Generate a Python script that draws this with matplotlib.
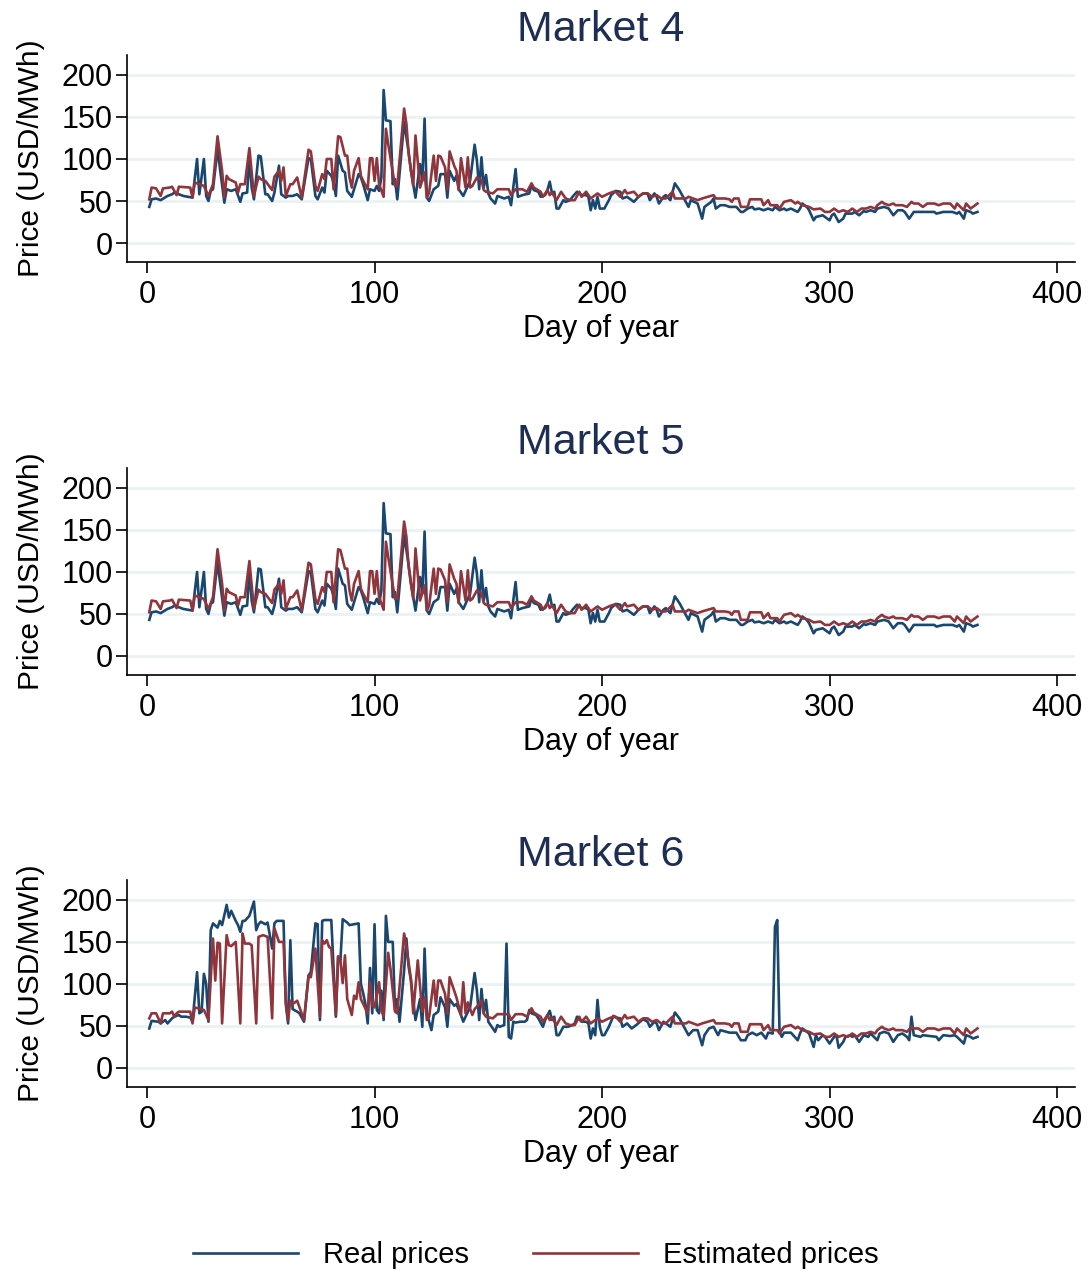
import matplotlib.pyplot as plt

plt.rcParams['font.family'] = ['Liberation Sans', 'DejaVu Sans']

# ---- data (day of year, USD/MWh) ----
# Market 4 and Market 5 show the same series
real4_day = [1, 2, 4, 6, 9, 11, 12, 14, 16, 18, 20, 22, 23, 25, 26, 27, 28, 29, 31, 32, 34, 35, 37, 39, 41, 42, 44, 45,
             46, 47, 49, 50, 52, 53, 55, 56, 58, 59, 61, 62, 64, 66, 68, 71, 72, 74, 75, 77, 78, 79, 81, 82, 83, 84, 86,
             87, 88, 90, 91, 93, 94, 95, 97, 98, 100, 101, 102, 103, 104, 105, 107, 108, 109, 110, 112, 113, 115, 116,
             118, 120, 121, 122, 123, 124, 126, 128, 129, 131, 132, 133, 135, 136, 137, 139, 140, 142, 144, 145, 146,
             147, 148, 149, 150, 151, 153, 154, 155, 157, 159, 160, 162, 163, 165, 168, 169, 170, 172, 173, 175, 176,
             177, 178, 179, 180, 181, 183, 184, 186, 187, 189, 191, 193, 194, 195, 196, 197, 198, 199, 201, 203, 204,
             206, 208, 209, 211, 213, 214, 216, 218, 220, 221, 223, 224, 225, 227, 228, 230, 232, 234, 236, 238, 239,
             242, 244, 245, 248, 249, 250, 252, 254, 256, 259, 261, 262, 264, 266, 267, 269, 271, 273, 275, 276, 278,
             280, 281, 283, 286, 287, 288, 290, 291, 293, 294, 297, 298, 300, 301, 302, 304, 306, 307, 310, 311, 313,
             315, 316, 318, 320, 321, 324, 326, 328, 330, 332, 333, 335, 337, 339, 341, 343, 346, 347, 350, 352, 354,
             356, 357, 359, 360, 362, 363, 365]
real4_val = [43, 52, 53, 51, 56, 58, 60, 58, 56, 55, 54, 100, 58, 100, 56, 50, 62, 64, 112, 90, 48, 64, 62, 64, 49, 59,
             60, 102, 66, 52, 104, 103, 58, 58, 50, 60, 92, 58, 54, 56, 56, 58, 52, 101, 100, 56, 52, 66, 60, 86, 80,
             72, 56, 104, 86, 84, 62, 55, 64, 82, 78, 70, 51, 64, 62, 68, 62, 78, 182, 146, 145, 70, 76, 52, 114, 144,
             108, 86, 54, 94, 74, 148, 54, 50, 64, 68, 82, 82, 54, 86, 74, 80, 64, 56, 62, 74, 117, 98, 64, 102, 66,
             81, 59, 53, 47, 56, 55, 53, 55, 45, 88, 55, 57, 59, 69, 63, 61, 55, 57, 63, 73, 59, 61, 41, 41, 51, 49,
             51, 55, 61, 57, 57, 55, 39, 51, 41, 55, 41, 41, 51, 57, 62, 61, 53, 55, 51, 49, 55, 59, 59, 51, 59, 55,
             47, 55, 57, 51, 71, 63, 53, 43, 51, 47, 29, 43, 49, 53, 41, 45, 45, 43, 43, 37, 37, 41, 43, 40, 41, 39,
             41, 39, 43, 39, 41, 39, 41, 37, 41, 47, 43, 39, 27, 31, 33, 31, 27, 33, 35, 25, 29, 35, 35, 37, 33, 38,
             37, 39, 37, 41, 43, 41, 33, 39, 39, 37, 29, 37, 37, 37, 37, 37, 35, 37, 37, 37, 35, 37, 29, 39, 37, 35, 37]

est4_day = [1, 2, 4, 6, 7, 10, 11, 12, 13, 14, 19, 20, 21, 25, 27, 29, 31, 33, 34, 35, 36, 39, 40, 41, 43, 45, 47, 49,
            50, 52, 55, 56, 58, 59, 60, 61, 63, 64, 66, 68, 71, 72, 74, 75, 77, 78, 79, 81, 82, 84, 85, 87, 88, 89,
            90, 91, 93, 94, 95, 97, 98, 99, 100, 101, 102, 104, 105, 106, 109, 110, 113, 114, 115, 117, 118, 120,
            122, 123, 124, 126, 127, 128, 129, 131, 132, 133, 135, 136, 137, 138, 140, 141, 142, 143, 145, 147, 148]
est4_val = [52, 66, 65, 56, 65, 66, 67, 62, 57, 67, 66, 54, 72, 68, 56, 70, 127, 86, 54, 80, 76, 72, 60, 70, 70, 113,
            56, 79, 76, 74, 63, 79, 86, 74, 90, 56, 70, 70, 78, 54, 111, 109, 68, 62, 82, 76, 100, 100, 64, 127, 126,
            104, 104, 78, 66, 86, 101, 80, 74, 64, 101, 101, 74, 101, 70, 55, 136, 118, 68, 68, 160, 142, 106, 68,
            128, 66, 84, 54, 60, 104, 74, 104, 103, 90, 64, 109, 92, 86, 63, 101, 66, 102, 66, 68, 78, 75, 63]

real6_day = [1, 2, 5, 6, 8, 9, 11, 12, 14, 15, 17, 19, 20, 22, 23, 24, 25, 26, 27, 28, 29, 31, 32, 33, 35, 36, 37, 39,
             40, 41, 42, 43, 45, 47, 48, 49, 50, 52, 53, 55, 56, 57, 60, 61, 62, 63, 64, 66, 67, 69, 71, 72, 74, 75,
             76, 77, 78, 81, 83, 84, 85, 86, 88, 89, 91, 93, 94, 95, 96, 97, 98, 99, 100, 101, 102, 103, 104, 105,
             106, 108, 109, 110, 111, 113, 114, 115, 116, 118, 120, 121, 122, 123, 125, 126, 128, 129, 131, 132, 133,
             135, 136, 138, 139, 140, 142, 144, 145, 146, 147, 148, 149, 150, 151, 153, 154, 155, 157, 158, 159, 160,
             161, 162, 164, 166, 167, 168, 169, 171, 172, 174, 175, 177, 178, 179, 180, 181, 183, 185, 187, 188, 189,
             191, 193, 194, 195, 196, 197, 198, 199, 200, 201, 203, 205, 206, 208, 209, 211, 213, 215, 218, 220, 221,
             223, 224, 225, 227, 228, 230, 232, 234, 236, 238, 240, 242, 244, 245, 247, 249, 251, 252, 256, 259, 261,
             263, 264, 266, 268, 270, 272, 273, 275, 276, 277, 278, 279, 280, 283, 286, 287, 288, 290, 291, 293, 294,
             295, 297, 298, 300, 302, 303, 304, 306, 307, 309, 310, 311, 313, 315, 317, 318, 321, 322, 324, 326, 328,
             330, 332, 334, 335, 336, 337, 340, 341, 344, 347, 348, 350, 353, 355, 356, 359, 360, 362, 363, 365]
real6_val = [47, 56, 55, 53, 57, 53, 59, 61, 63, 61, 61, 60, 55, 114, 65, 67, 112, 100, 55, 164, 172, 167, 175, 170,
             194, 179, 187, 175, 170, 162, 175, 175, 181, 198, 164, 171, 174, 171, 173, 142, 172, 175, 175, 76, 53,
             152, 70, 67, 65, 55, 110, 114, 172, 171, 57, 175, 176, 176, 61, 132, 128, 177, 173, 170, 171, 172, 100,
             89, 76, 53, 119, 65, 171, 69, 65, 92, 57, 181, 150, 150, 69, 82, 55, 116, 154, 120, 104, 57, 82, 49, 142,
             65, 45, 63, 67, 84, 72, 49, 82, 74, 76, 63, 55, 61, 72, 113, 92, 57, 94, 65, 81, 55, 51, 43, 51, 49, 51,
             148, 37, 35, 55, 54, 55, 55, 57, 69, 65, 63, 59, 49, 57, 68, 57, 61, 39, 39, 49, 49, 51, 53, 61, 55, 55,
             53, 35, 47, 39, 81, 49, 39, 39, 49, 62, 60, 59, 49, 53, 47, 51, 58, 55, 49, 55, 53, 45, 55, 53, 49, 66,
             59, 49, 39, 45, 45, 27, 39, 47, 49, 39, 45, 42, 42, 33, 33, 39, 42, 39, 42, 35, 42, 41, 168, 176, 43, 37,
             42, 42, 33, 41, 47, 43, 41, 25, 39, 33, 39, 37, 29, 37, 39, 24, 31, 37, 39, 37, 39, 31, 39, 37, 41, 33,
             41, 43, 41, 31, 39, 41, 37, 33, 61, 39, 37, 39, 38, 37, 33, 39, 38, 39, 37, 29, 39, 37, 35, 37]

est6_day = [1, 2, 4, 6, 7, 10, 11, 12, 13, 14, 19, 20, 21, 25, 27, 29, 30, 31, 32, 33, 35, 36, 37, 39, 41, 42, 43, 45,
            46, 48, 49, 51, 53, 55, 56, 58, 60, 61, 62, 63, 64, 66, 69, 71, 72, 74, 76, 77, 78, 79, 80, 81, 83, 84,
            85, 86, 87, 88, 90, 91, 92, 93, 94, 97, 98, 99, 100, 102, 103, 104, 106, 107, 109, 110, 113, 114, 116,
            117, 119, 121, 122, 123, 124, 126, 127, 128, 129, 131, 132, 133, 135, 136, 138, 139, 140, 141, 143, 144,
            146, 147, 148]
est6_val = [59, 65, 65, 53, 65, 65, 67, 61, 65, 67, 67, 53, 72, 69, 57, 154, 104, 149, 148, 53, 158, 146, 145, 150, 53,
            160, 148, 148, 146, 53, 156, 158, 156, 59, 166, 150, 150, 80, 57, 80, 76, 80, 57, 110, 108, 142, 61, 152,
            148, 152, 144, 142, 63, 133, 128, 101, 134, 82, 63, 86, 82, 102, 82, 65, 102, 74, 72, 102, 69, 61, 137,
            118, 67, 65, 160, 144, 106, 65, 128, 67, 84, 57, 61, 104, 74, 104, 104, 88, 65, 108, 92, 84, 63, 102, 65,
            78, 63, 70, 76, 80, 65]

# estimated prices after day 148 look the same in every market
est_tail_day = [149, 152, 154, 159, 160, 162, 165, 167, 169, 170, 173, 174, 176, 177, 178, 180, 182, 184, 186, 188,
                190, 191, 193, 195, 198, 200, 203, 205, 206, 208, 210, 211, 214, 216, 218, 220, 222, 224, 226, 228,
                231, 232, 237, 238, 242, 244, 249, 250, 254, 256, 257, 258, 260, 261, 264, 265, 270, 271, 273, 274,
                277, 278, 280, 283, 285, 286, 288, 291, 293, 296, 298, 300, 302, 304, 306, 308, 310, 312, 314, 316,
                318, 320, 321, 323, 324, 326, 328, 329, 332, 334, 336, 337, 339, 341, 343, 346, 348, 350, 353, 355,
                356, 359, 360, 362, 365]
est_tail_val = [61, 59, 64, 64, 57, 64, 64, 61, 71, 66, 61, 55, 63, 57, 60, 51, 61, 53, 51, 51, 61, 55, 61, 53, 59,
                55, 59, 61, 61, 55, 63, 59, 61, 55, 59, 59, 55, 57, 53, 53, 61, 53, 53, 55, 51, 53, 57, 53, 53, 52, 49,
                53, 53, 43, 43, 52, 52, 45, 51, 45, 45, 41, 49, 51, 47, 49, 45, 43, 40, 41, 37, 37, 41, 37, 39, 37, 41,
                37, 41, 41, 43, 41, 45, 49, 47, 45, 47, 45, 45, 43, 49, 47, 47, 43, 47, 47, 45, 47, 47, 41, 47, 39, 47,
                41, 47]

titles = ['Market 4', 'Market 5', 'Market 6']
real_days = [real4_day, real4_day, real6_day]
real_vals = [real4_val, real4_val, real6_val]
est_days = [est4_day + est_tail_day, est4_day + est_tail_day, est6_day + est_tail_day]
est_vals = [est4_val + est_tail_val, est4_val + est_tail_val, est6_val + est_tail_val]

blue = '#1a476f'
red = '#90353b'

fig = plt.figure(figsize=(10.91, 12.75), dpi=100)
bottoms = [0.7945, 0.4706, 0.1475]

for i in range(3):
    ax = fig.add_axes([0.1164, bottoms[i], 0.869, 0.1624])
    ax.plot(real_days[i], real_vals[i], color=blue, lw=1.9, label='Real prices')
    ax.plot(est_days[i], est_vals[i], color=red, lw=1.9, label='Estimated prices')
    ax.set_xlim(-8.8, 407.9)
    ax.set_ylim(-22.6, 223.8)
    ax.set_xticks([0, 100, 200, 300, 400])
    ax.set_yticks([0, 50, 100, 150, 200])
    ax.grid(axis='y', color='#eaf2f3', lw=2)
    ax.set_axisbelow(True)
    ax.spines['top'].set_visible(False)
    ax.spines['right'].set_visible(False)
    ax.spines['left'].set_linewidth(1.2)
    ax.spines['bottom'].set_linewidth(1.2)
    ax.tick_params(labelsize=22, length=8, width=1.2, direction='out')
    ax.tick_params(axis='y', pad=2)
    ax.tick_params(axis='x', pad=5)
    ax.set_xlabel('Day of year', fontsize=22, labelpad=3)
    ax.set_ylabel('Price (USD/MWh)', fontsize=21.5, labelpad=12)
    ax.set_title(titles[i], fontsize=31, color='#1e2d54', pad=10)

handles, labels = ax.get_legend_handles_labels()
fig.legend(handles, labels, loc='center', bbox_to_anchor=(0.491, 0.0157), ncol=2, frameon=False,
           fontsize=21, handlelength=3.6, handletextpad=0.85, columnspacing=2.2)

plt.savefig('out.png', dpi=100)
plt.close()
